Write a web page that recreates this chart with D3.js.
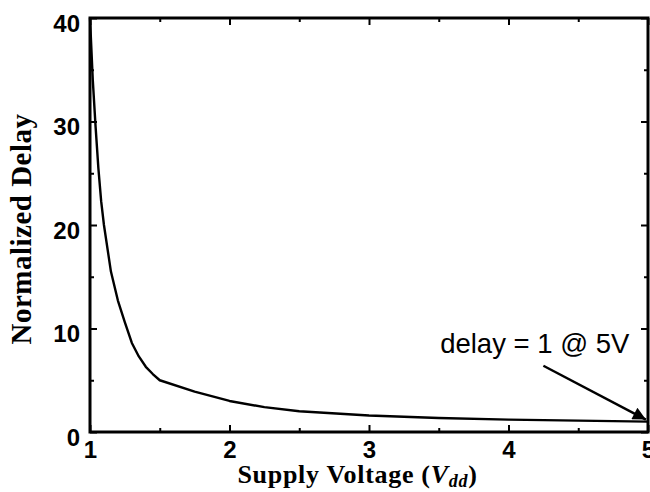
<!DOCTYPE html>
<html><head><meta charset="utf-8">
<script src="https://cdn.jsdelivr.net/npm/d3@7/dist/d3.min.js"></script>
<style>
body{margin:0;background:#fff;}
svg{display:block;}
</style></head>
<body>
<svg id="chart" width="650" height="492"></svg>
<script>
// Data
const voltage = [1.0, 1.02, 1.04, 1.06, 1.08, 1.1, 1.15, 1.2, 1.25, 1.3, 1.35, 1.4, 1.45, 1.5, 1.75, 2.0, 2.25, 2.5, 3.0, 3.5, 4.0, 4.5, 5.0];
const delay   = [40, 34, 29.5, 25.5, 22.3, 20, 15.5, 12.7, 10.6, 8.6, 7.3, 6.3, 5.6, 5.0, 3.9, 3.0, 2.4, 2.0, 1.6, 1.35, 1.2, 1.1, 1.0];
const xTicks = [1, 2, 3, 4, 5];
const yTicks = [0, 10, 20, 30, 40];
const xMinor = [1.5, 2.5, 3.5, 4.5];
const yMinor = [5, 15, 25, 35];
const annotationText = "delay = 1 @ 5V";
const annotationAnchor = [3.51, 7.6];
const arrowFrom = [4.25, 6.4];
const arrowTo = [4.985, 1.2];

const svg = d3.select("#chart");
const L = 90, R = 648, T = 18, B = 432;
const x = d3.scaleLinear().domain([1, 5]).range([L, R]);
const y = d3.scaleLinear().domain([0, 40]).range([B, T]);

const tickFont = "'Liberation Sans', Arial, Helvetica, sans-serif";
const serif = "'Liberation Serif', 'Times New Roman', Times, serif";

function styleAxis(g){ g.select(".domain").remove(); g.selectAll("line").attr("stroke","#000").attr("stroke-width",2); }
// minor ticks
svg.append("g").attr("transform",`translate(0,${B})`).call(d3.axisBottom(x).tickValues(xMinor).tickSize(-4).tickFormat("")).call(styleAxis);
svg.append("g").attr("transform",`translate(0,${T})`).call(d3.axisTop(x).tickValues(xMinor).tickSize(-4).tickFormat("")).call(styleAxis);
svg.append("g").attr("transform",`translate(${L},0)`).call(d3.axisLeft(y).tickValues(yMinor).tickSize(-4).tickFormat("")).call(styleAxis);
svg.append("g").attr("transform",`translate(${R},0)`).call(d3.axisRight(y).tickValues(yMinor).tickSize(-4).tickFormat("")).call(styleAxis);
// major ticks
const gb = svg.append("g").attr("transform",`translate(0,${B})`).call(d3.axisBottom(x).tickValues(xTicks).tickSize(-7).tickFormat(d3.format("d")));
const gt = svg.append("g").attr("transform",`translate(0,${T})`).call(d3.axisTop(x).tickValues(xTicks).tickSize(-7).tickFormat(""));
const gl = svg.append("g").attr("transform",`translate(${L},0)`).call(d3.axisLeft(y).tickValues(yTicks).tickSize(-7).tickFormat(d3.format("d")));
const gr = svg.append("g").attr("transform",`translate(${R},0)`).call(d3.axisRight(y).tickValues(yTicks).tickSize(-7).tickFormat(""));
[gb,gt,gl,gr].forEach(styleAxis);
[gb,gl].forEach(g=>g.selectAll("text").attr("fill","#000").style("font-family",tickFont).style("font-weight","bold").style("font-size","24px"));
gb.selectAll("text").attr("dy","0.71em").attr("y",9);
gl.selectAll("text").attr("dy","0.55em").attr("x",-10);

// frame
svg.append("rect").attr("x",L).attr("y",T).attr("width",R-L).attr("height",B-T)
  .attr("fill","none").attr("stroke","#000").attr("stroke-width",3);

// curve
const line = d3.line().x((d,i)=>x(voltage[i])).y(d=>y(d)).curve(d3.curveLinear);
svg.append("path").datum(delay).attr("d",line).attr("fill","none").attr("stroke","#000").attr("stroke-width",2.4).attr("stroke-linejoin","round");

// annotation
svg.append("defs").append("marker").attr("id","ah").attr("viewBox","0 0 10 10").attr("refX",10).attr("refY",5)
  .attr("markerWidth",16).attr("markerHeight",13).attr("markerUnits","userSpaceOnUse").attr("orient","auto")
  .append("path").attr("d","M0,0 L10,5 L0,10 Z").attr("fill","#000");
svg.append("line").attr("x1",x(arrowFrom[0])).attr("y1",y(arrowFrom[1])).attr("x2",x(arrowTo[0])).attr("y2",y(arrowTo[1]))
  .attr("stroke","#000").attr("stroke-width",2.5).attr("marker-end","url(#ah)");
svg.append("text").attr("x",x(annotationAnchor[0])).attr("y",y(annotationAnchor[1]))
  .style("font-family",tickFont).style("font-size","27.5px").attr("fill","#000").text(annotationText);

// axis titles
const xt = svg.append("text").attr("x",(236+479)/2).attr("y",483).attr("text-anchor","middle")
  .style("font-family",serif).style("font-weight","bold").style("font-size","26px").style("letter-spacing","0.7px").attr("fill","#000");
xt.append("tspan").text("Supply Voltage (");
xt.append("tspan").style("font-style","italic").text("V");
xt.append("tspan").style("font-style","italic").style("font-size","18px").attr("dy",4).text("dd");
xt.append("tspan").attr("dy",-4).text(")");

svg.append("text").attr("transform",`translate(31,229) rotate(-90)`).attr("text-anchor","middle")
  .style("font-family",serif).style("font-weight","bold").style("font-size","29px").style("letter-spacing","0.5px").attr("fill","#000").text("Normalized Delay");
</script>
</body></html>
